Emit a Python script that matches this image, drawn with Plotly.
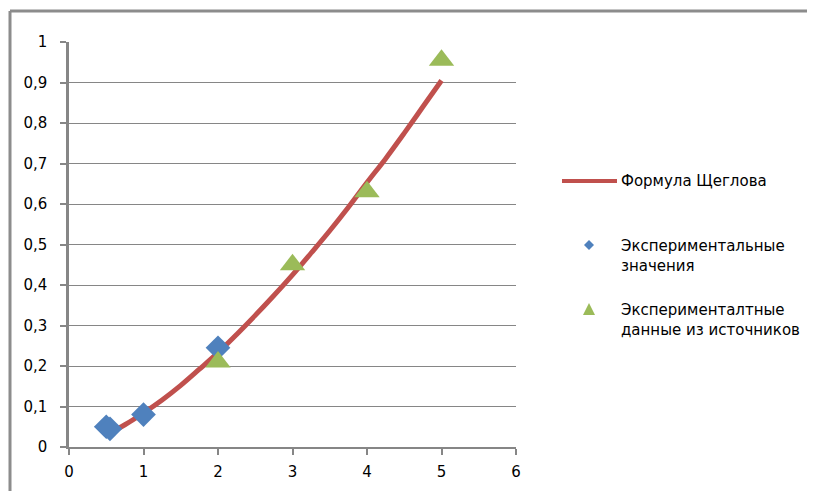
import plotly.graph_objects as go

# Formula curve
formula_x = [0.5, 0.75, 1.0, 1.25, 1.5, 1.75, 2.0, 2.25, 2.5, 2.75, 3.0, 3.25, 3.5, 3.75, 4.0, 4.25, 4.5, 4.75, 5.0]
formula_y = [0.03, 0.055, 0.084, 0.116, 0.152, 0.192, 0.233, 0.278, 0.325, 0.374, 0.425, 0.479, 0.534, 0.592, 0.653, 0.712, 0.775, 0.84, 0.905]

# Experimental values
exp_x = [0.5, 0.55, 1.0, 2.0]
exp_y = [0.05, 0.045, 0.08, 0.245]

# Experimental data from sources
src_x = [2, 3, 4, 5]
src_y = [0.21, 0.45, 0.63, 0.955]

y_tickvals = [0, 0.1, 0.2, 0.3, 0.4, 0.5, 0.6, 0.7, 0.8, 0.9, 1.0]
y_ticktext = ["0", "0,1", "0,2", "0,3", "0,4", "0,5", "0,6", "0,7", "0,8", "0,9", "1"]
x_tickvals = [0, 1, 2, 3, 4, 5, 6]

legend_names = ["Формула Щеглова", "Экспериментальные<br>значения", "Эксперименталтные<br>данные из источников"]

RED = "#c0504d"
BLUE = "#4f81bd"
GREEN = "#9bbb59"
GRID = "#868686"
FONT = dict(family="DejaVu Sans", size=15, color="#000000")

# plot area in page pixels
PX0, PX1, PY0, PY1 = 69, 516, 42, 447


def px(x):
    return (x - PX0) / (PX1 - PX0)


def py(y):
    return (PY1 - y) / (PY1 - PY0)


fig = go.Figure()
fig.add_trace(go.Scatter(x=formula_x, y=formula_y, mode="lines",
                         line=dict(color=RED, width=5, shape="spline"),
                         showlegend=False, cliponaxis=False))
fig.add_trace(go.Scatter(x=exp_x, y=exp_y, mode="markers",
                         marker=dict(symbol="diamond", size=19, color=BLUE),
                         showlegend=False, cliponaxis=False))
fig.add_trace(go.Scatter(x=src_x, y=src_y, mode="markers",
                         marker=dict(symbol="triangle-up", size=22, color=GREEN),
                         showlegend=False, cliponaxis=False))


def diamond_path(cx, cy, r):
    return (f"M {px(cx)} {py(cy - r)} L {px(cx + r)} {py(cy)} L {px(cx)} {py(cy + r)} "
            f"L {px(cx - r)} {py(cy)} Z")


def triangle_path(cx, cy, r):
    return (f"M {px(cx)} {py(cy - r)} L {px(cx + r)} {py(cy + r)} L {px(cx - r)} {py(cy + r)} Z")


shapes = [
    # outer chart border (top and left)
    dict(type="line", xref="paper", yref="paper", x0=px(10), x1=px(830), y0=py(11), y1=py(11),
         line=dict(color="#8c8c8c", width=3)),
    dict(type="line", xref="paper", yref="paper", x0=px(10), x1=px(10), y0=py(11), y1=py(520),
         line=dict(color="#8c8c8c", width=3)),
    # legend line sample
    dict(type="line", xref="paper", yref="paper", x0=px(562), x1=px(617), y0=py(181), y1=py(181),
         line=dict(color=RED, width=4)),
    dict(type="path", xref="paper", yref="paper", path=diamond_path(589, 245, 5),
         fillcolor=BLUE, line=dict(width=0)),
    dict(type="path", xref="paper", yref="paper", path=triangle_path(589, 309, 6),
         fillcolor=GREEN, line=dict(width=0)),
]

annotations = []
for txt, ypx in zip(legend_names, [181, 256, 320]):
    annotations.append(dict(xref="paper", yref="paper", x=px(619), y=py(ypx),
                            text=txt, showarrow=False, xanchor="left", yanchor="middle", align="left",
                            font=FONT))

# page has an 8px body margin: figure is 807x483
fig.update_layout(
    width=807, height=483,
    margin=dict(l=PX0 - 8, r=807 - (PX1 - 8), t=PY0 - 8, b=483 - (PY1 - 8), autoexpand=False),
    paper_bgcolor="white", plot_bgcolor="white",
    font=FONT,
    showlegend=False,
    shapes=shapes,
    annotations=annotations,
    xaxis=dict(range=[0, 6], tickvals=x_tickvals, showgrid=False, zeroline=False,
               showline=True, linecolor=GRID, linewidth=1.5, ticks="outside", ticklen=6,
               tickcolor=GRID, tickwidth=1.5, tickfont=FONT, ticklabelstandoff=4),
    yaxis=dict(range=[0, 1], tickvals=y_tickvals, ticktext=y_ticktext, showgrid=True,
               gridcolor=GRID, gridwidth=1.2, zeroline=False, showline=True, linecolor=GRID,
               linewidth=2.5, ticks="outside", ticklen=6, tickcolor=GRID, tickwidth=1.5,
               tickfont=FONT, ticklabelstandoff=10),
)
fig.write_html("out.html")
